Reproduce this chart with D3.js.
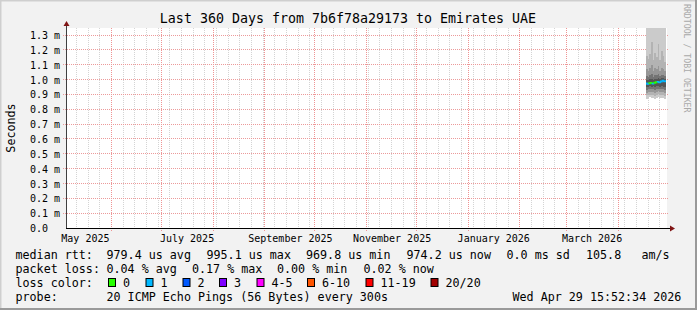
<!DOCTYPE html>
<html>
<head>
<meta charset="utf-8">
<script src="https://cdn.jsdelivr.net/npm/d3@7"></script>
<style>
html, body { margin: 0; padding: 0; background: #f2f2f2; }
svg { display: block; }
text { font-family: "DejaVu Sans Mono", monospace; }
</style>
</head>
<body>
<div id="chart"></div>
<script>
// ---------- data ----------
const titleText = "Last 360 Days from 7b6f78a29173 to Emirates UAE";
const graphEnd = "2026-04-29T15:52:34";
const rangeDays = 360;

const yTicks = [0, 0.1, 0.2, 0.3, 0.4, 0.5, 0.6, 0.7, 0.8, 0.9, 1.0, 1.1, 1.2, 1.3];
const yMax = 1.3472;

const monthLabelStarts = ["2025-05-01", "2025-07-01", "2025-09-01", "2025-11-01", "2026-01-01", "2026-03-01"];
const monthLabels = ["May 2025", "July 2025", "September 2025", "November 2025", "January 2026", "March 2026"];

// one value per day (each step ends at the listed time), in ms
const stepEnds = [
  "2026-04-18T15:52:34", "2026-04-19T15:52:34", "2026-04-20T15:52:34", "2026-04-21T15:52:34",
  "2026-04-22T15:52:34", "2026-04-23T15:52:34", "2026-04-24T15:52:34", "2026-04-25T15:52:34",
  "2026-04-26T15:52:34", "2026-04-27T15:52:34", "2026-04-28T15:52:34", "2026-04-29T15:52:34"
];
const medianMs = [0.973, 0.971, 0.975, 0.977, 0.974, 0.979, 0.981, 0.983, 0.981, 0.986, 0.992, 0.988];
const lossCount = [1, 1, 0, 0, 1, 0, 0, 1, 1, 1, 1, 1];

// smoke: pairs of sorted pings, outermost first
const band1Lo = [0.872, 0.876, 0.880, 0.874, 0.878, 0.870, 0.877, 0.881, 0.875, 0.879, 0.873, 0.866];
const band1Hi = [1.52, 1.61, 1.48, 1.55, 1.66, 1.50, 1.58, 1.63, 1.49, 1.54, 1.57, 1.51];
const band2Lo = [0.893, 0.897, 0.899, 0.894, 0.898, 0.892, 0.896, 0.901, 0.895, 0.899, 0.894, 0.889];
const band2Hi = [1.16, 1.14, 1.17, 1.25, 1.13, 1.18, 1.15, 1.24, 1.13, 1.19, 1.16, 1.12];
const band3Lo = [0.912, 0.915, 0.918, 0.913, 0.917, 0.911, 0.916, 0.920, 0.914, 0.918, 0.913, 0.909];
const band3Hi = [1.07, 1.06, 1.08, 1.10, 1.06, 1.08, 1.07, 1.09, 1.06, 1.08, 1.07, 1.06];
const band4Lo = [0.932, 0.934, 0.937, 0.933, 0.936, 0.931, 0.936, 0.939, 0.934, 0.938, 0.933, 0.929];
const band4Hi = [1.025, 1.02, 1.03, 1.035, 1.02, 1.03, 1.028, 1.034, 1.022, 1.03, 1.03, 1.025];
const band5Lo = [0.951, 0.953, 0.956, 0.952, 0.955, 0.950, 0.955, 0.958, 0.953, 0.957, 0.952, 0.948];
const band5Hi = [1.000, 0.998, 1.004, 1.006, 0.999, 1.004, 1.006, 1.009, 1.003, 1.008, 1.012, 1.006];

const rttLegend = ["979.4 us avg", "995.1 us max", "969.8 us min", "974.2 us now", "0.0 ms sd", "105.8", "am/s"];
const lossLegend = ["0.04 % avg", "0.17 % max", "0.00 % min", "0.02 % now"];
const lossBuckets = ["0", "1", "2", "3", "4-5", "6-10", "11-19", "20/20"];
const lossColors = ["#26ff00", "#00b8ff", "#0059ff", "#7e00ff", "#ff00ff", "#ff5500", "#ff0000", "#a10000"];
const probeText = "20 ICMP Echo Pings (56 Bytes) every 300s";
const stampText = "Wed Apr 29 15:52:34 2026";

// ---------- layout ----------
const W = 697, H = 310;
const plot = { left: 66, top: 28, width: 600, height: 200 };
const legendFont = "11.7px", axisFont = "10px";

const svg = d3.select("#chart").append("svg")
    .attr("width", W).attr("height", H);

// background + 3d border
svg.append("rect").attr("width", W).attr("height", H).attr("fill", "#f2f2f2");
svg.append("path").attr("d", `M0,${H} V0 H${W}`).attr("stroke", "#cfcfcf").attr("stroke-width", 3).attr("fill", "none");
svg.append("path").attr("d", `M${W},0 V${H} H0`).attr("stroke", "#9a9a9a").attr("stroke-width", 4).attr("fill", "none");

// canvas
svg.append("rect")
    .attr("x", plot.left).attr("y", plot.top)
    .attr("width", plot.width + 1).attr("height", plot.height)
    .attr("fill", "#ffffff");

const parse = d3.timeParse("%Y-%m-%dT%H:%M:%S");
const end = parse(graphEnd);
const start = d3.timeDay.offset(end, -rangeDays);

const x = d3.scaleTime().domain([start, end]).range([plot.left, plot.left + plot.width]);
const y = d3.scaleLinear().domain([0, yMax]).range([plot.top + plot.height, plot.top]);
const snap = v => Math.floor(v) + 0.5;

// grid: weekly minor lines, monthly major lines, horizontal major lines
const grid = svg.append("g").attr("shape-rendering", "crispEdges");
d3.timeSunday.range(start, end).forEach(d => {
    grid.append("line")
        .attr("x1", snap(x(d))).attr("x2", snap(x(d)))
        .attr("y1", plot.top).attr("y2", plot.top + plot.height + 2)
        .attr("stroke", "#d4d4d4").attr("stroke-dasharray", "1,1");
});
d3.timeMonth.range(start, end).forEach(d => {
    grid.append("line")
        .attr("x1", snap(x(d))).attr("x2", snap(x(d)))
        .attr("y1", plot.top).attr("y2", plot.top + plot.height + 3)
        .attr("stroke", "#ef9494").attr("stroke-dasharray", "1,1");
});
yTicks.filter(v => v > 0).forEach(v => {
    grid.append("line")
        .attr("x1", plot.left - 3).attr("x2", plot.left + plot.width + 3)
        .attr("y1", snap(y(v))).attr("y2", snap(y(v)))
        .attr("stroke", "#ec9a9a").attr("stroke-dasharray", "1,1");
});

// smoke
svg.append("clipPath").attr("id", "plotClip").append("rect")
    .attr("x", plot.left).attr("y", plot.top)
    .attr("width", plot.width + 1).attr("height", plot.height);

const steps = stepEnds.map(parse);
const bands = [
    [band1Lo, band1Hi, "#cbcbcb"],
    [band2Lo, band2Hi, "#b3b3b3"],
    [band3Lo, band3Hi, "#969696"],
    [band4Lo, band4Hi, "#747474"],
    [band5Lo, band5Hi, "#555555"]
];
const smoke = svg.append("g").attr("clip-path", "url(#plotClip)");
bands.forEach(([lo, hi, col]) => {
    steps.forEach((t, i) => {
        const t0 = d3.timeDay.offset(t, -1);
        smoke.append("rect")
            .attr("x", x(t0)).attr("width", x(t) - x(t0))
            .attr("y", y(hi[i])).attr("height", y(lo[i]) - y(hi[i]))
            .attr("fill", col).attr("shape-rendering", "crispEdges");
    });
});

// median, coloured by loss
steps.forEach((t, i) => {
    const t0 = d3.timeDay.offset(t, -1);
    const prev = i > 0 ? medianMs[i - 1] : medianMs[i];
    smoke.append("path")
        .attr("d", `M${x(t0)},${y(prev)} V${y(medianMs[i])} H${x(t)}`)
        .attr("fill", "none")
        .attr("stroke", lossColors[lossCount[i]])
        .attr("stroke-width", 2);
});

// axes lines + arrows
const x0 = plot.left + 0.5, yb = plot.top + plot.height + 0.5;
svg.append("line").attr("x1", x0).attr("x2", x0).attr("y1", yb).attr("y2", plot.top - 2)
    .attr("stroke", "#404040");
svg.append("line").attr("x1", plot.left).attr("x2", plot.left + plot.width + 4).attr("y1", yb).attr("y2", yb)
    .attr("stroke", "#000000");
svg.append("path").attr("d", `M${x0},${plot.top - 7} L${x0 + 3},${plot.top - 2} L${x0 - 3},${plot.top - 2} Z`)
    .attr("fill", "#801515");
svg.append("path").attr("d", `M${plot.left + plot.width + 9},${yb} L${plot.left + plot.width + 4},${yb - 3} L${plot.left + plot.width + 4},${yb + 3} Z`)
    .attr("fill", "#801515");

// y tick labels
const yAxis = svg.append("g")
    .attr("transform", `translate(${plot.left - 6},0)`)
    .call(d3.axisLeft(y).tickValues(yTicks).tickSize(0).tickPadding(0)
        .tickFormat(v => v === 0 ? "0.0  " : d3.format(".1f")(v) + " m"));
yAxis.select(".domain").remove();
yAxis.selectAll("text")
    .attr("font-family", "DejaVu Sans Mono").attr("font-size", axisFont)
    .attr("fill", "#000").attr("dy", "0.36em").style("white-space", "pre");

// x month labels (centred half a month after the month start)
const labelDates = monthLabelStarts.map(s => d3.timeDay.offset(d3.timeParse("%Y-%m-%d")(s), 15));
const xAxis = svg.append("g")
    .attr("transform", `translate(0,${plot.top + plot.height + 4})`)
    .call(d3.axisBottom(x).tickValues(labelDates).tickSize(0).tickPadding(0)
        .tickFormat((d, i) => monthLabels[i]));
xAxis.select(".domain").remove();
xAxis.selectAll("text")
    .attr("font-family", "DejaVu Sans Mono").attr("font-size", axisFont)
    .attr("fill", "#000").attr("y", 0).attr("dy", "9.5px");

// title
svg.append("text")
    .attr("x", 348).attr("y", 22.5)
    .attr("text-anchor", "middle")
    .attr("font-size", "13.3px")
    .text(titleText);

// y axis title
svg.append("text")
    .attr("transform", `translate(15,${plot.top + plot.height / 2}) rotate(-90)`)
    .attr("text-anchor", "middle")
    .attr("font-size", legendFont)
    .text("Seconds");

// watermark
svg.append("text")
    .attr("transform", "translate(684,4) rotate(90)")
    .attr("font-size", "8.2px")
    .attr("fill", "#a9a9a9")
    .text("RRDTOOL / TOBI OETIKER");

// legend
const rowY = [258.5, 272.5, 286.5, 300.5];
const labelX = 15.5;
const rttCols = [106.5, 206.5, 306, 406.5, 506.5, 586, 641.5];
const lossCols = [106.5, 192, 277, 363.5];
const boxCols = [108.5, 146, 183, 219.5, 257, 307.5, 366, 431];

const legend = svg.append("g").attr("font-size", legendFont).attr("fill", "#000");
const addText = (tx, ty, s) => legend.append("text").attr("x", tx).attr("y", ty).text(s);

addText(labelX, rowY[0], "median rtt:");
rttLegend.forEach((s, i) => addText(rttCols[i], rowY[0], s));

addText(labelX, rowY[1], "packet loss:");
lossLegend.forEach((s, i) => addText(lossCols[i], rowY[1], s));

addText(labelX, rowY[2], "loss color:");
lossBuckets.forEach((s, i) => {
    legend.append("rect")
        .attr("x", boxCols[i]).attr("y", rowY[2] - 8)
        .attr("width", 7).attr("height", 8)
        .attr("fill", lossColors[i]).attr("stroke", "#000").attr("stroke-width", 1);
    addText(boxCols[i] + 14.5, rowY[2], s);
});

addText(labelX, rowY[3], "probe:");
addText(rttCols[0], rowY[3], probeText);
addText(512.5, rowY[3], stampText);
</script>
</body>
</html>
